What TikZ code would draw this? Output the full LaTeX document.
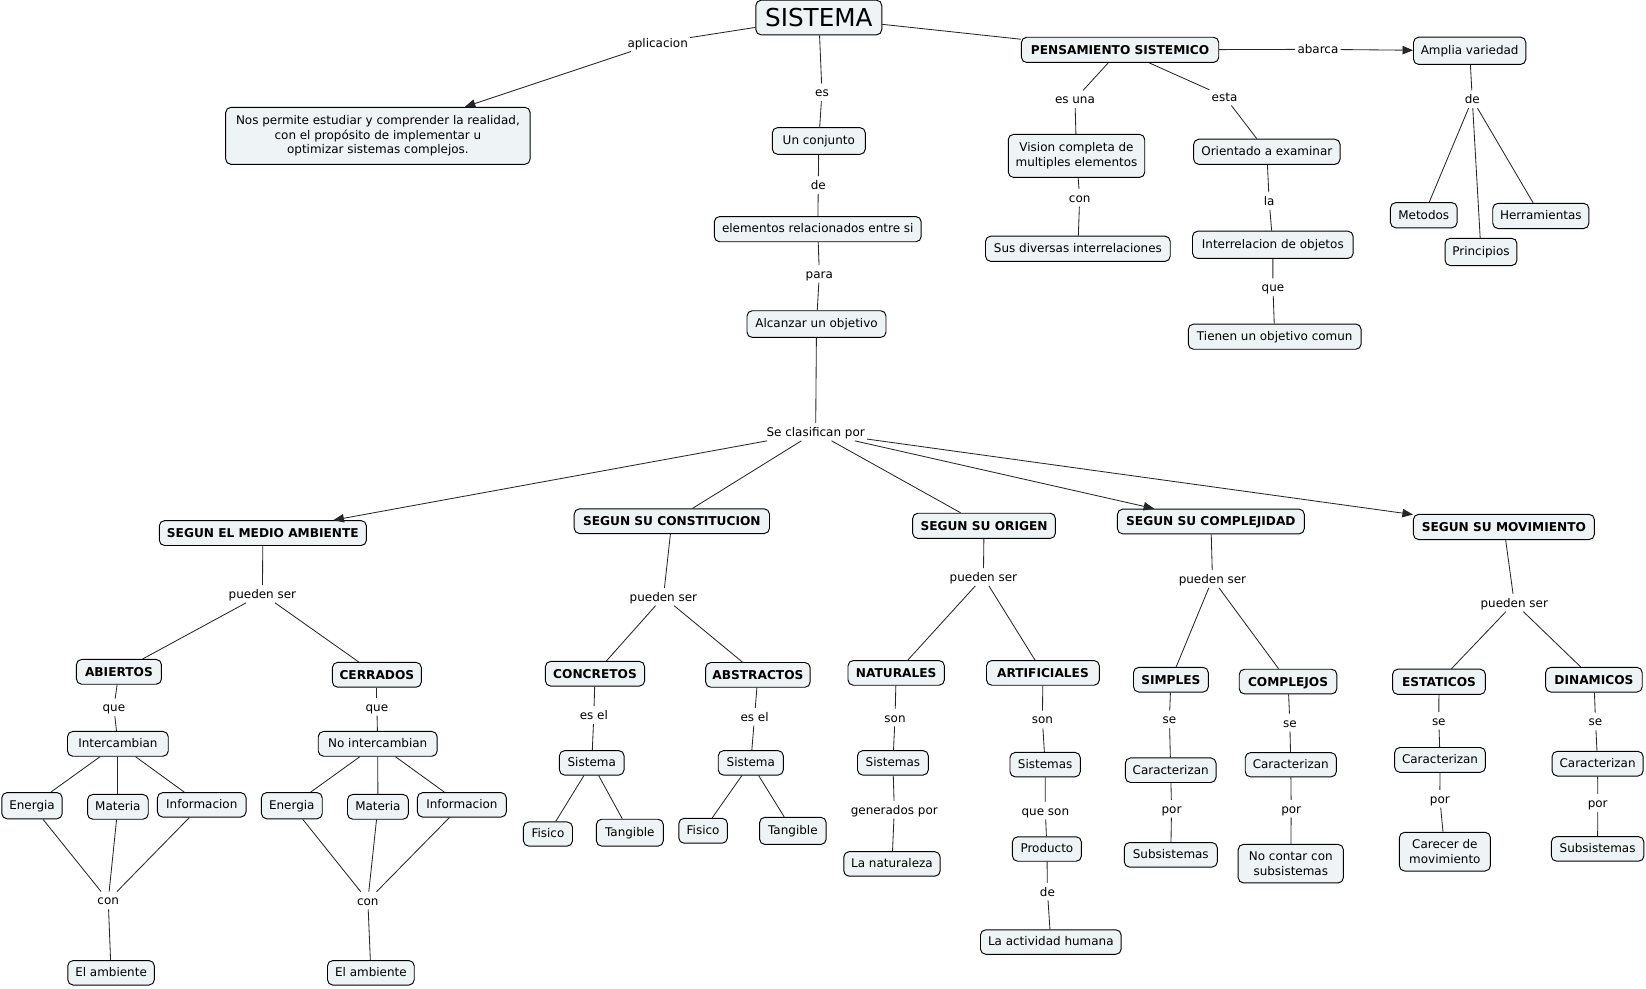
\documentclass[tikz,border=0pt]{standalone}
\usepackage{fontspec}
\setmainfont{DejaVu Sans}
\usetikzlibrary{arrows.meta}
\definecolor{boxfill}{RGB}{238,243,245}
\newcommand\regfs{\fontsize{11.4}{14}\selectfont}
\newcommand\boldfs{\fontsize{11.6}{14}\selectfont\bfseries}
\tikzset{
  cbox/.style={draw=black, fill=boxfill, rounded corners=5pt, line width=0.9pt, inner sep=1pt, font=\regfs, text height=9.5pt, text depth=2.2pt},
  cmbox/.style={draw=black, fill=boxfill, rounded corners=5pt, line width=0.9pt, inner sep=1pt, font=\regfs, align=center},
  cbbox/.style={cbox, font=\boldfs, text height=10pt, text depth=1.5pt},
  clab/.style={inner xsep=2pt, inner ysep=3pt, font=\regfs, text height=9.5pt, text depth=1pt},
  conn/.style={line width=0.8pt, draw=black!85},
  conarrow/.style={conn, -{Triangle[length=10pt,width=8pt]}},
}
\begin{document}
\begin{tikzpicture}[x=1pt,y=-1pt]
\useasboundingbox (0,0) rectangle (1568,941.2);
\fill[white] (0,0) rectangle (1568,941.2);

% ---------- top ----------
\node[cbox, font=\fontsize{23.5}{26}\selectfont, text height=17pt, text depth=0pt, minimum width=120pt, minimum height=33pt] (sis) at (780,16.7) {SISTEMA};
\node[cmbox, minimum width=290pt, minimum height=54.3pt] (nos) at (360,129.4) {Nos permite estudiar y comprender la realidad,\\ con el propósito de implementar u\\ optimizar sistemas complejos.};
\node[cbox, minimum width=88.6pt, minimum height=25.4pt] (un) at (780,134.3) {Un conjunto};
\node[cbox, minimum width=197pt, minimum height=24pt] (elem) at (779,218.3) {elementos relacionados entre si};
\node[cbox, minimum width=132.4pt, minimum height=25.4pt] (alc) at (777.8,308.7) {Alcanzar un objetivo};
\node[cbbox, minimum width=188pt, minimum height=24pt] (pens) at (1067,47.5) {PENSAMIENTO SISTEMICO};
\node[cbox, minimum width=107pt, minimum height=26pt] (amp) at (1400,48.4) {Amplia variedad};
\node[cmbox, minimum width=130pt, minimum height=41pt] (vis) at (1025.5,148.5) {Vision completa de\\ multiples elementos};
\node[cbox, minimum width=176pt, minimum height=24pt] (sus) at (1026.8,237) {Sus diversas interrelaciones};
\node[cbox, minimum width=139.5pt, minimum height=24pt] (ori) at (1206.8,144.6) {Orientado a examinar};
\node[cbox, minimum width=153pt, minimum height=26pt] (inter) at (1212.5,233.2) {Interrelacion de objetos};
\node[cbox, minimum width=164.6pt, minimum height=24pt] (tien) at (1214.3,320.7) {Tienen un objetivo comun};
\node[cbox, minimum width=63.5pt, minimum height=24pt] (met) at (1356.3,205) {Metodos};
\node[cbox, minimum width=68.5pt, minimum height=26pt] (prin) at (1410.8,240) {Principios};
\node[cbox, minimum width=91.6pt, minimum height=24pt] (herr) at (1467.8,205.7) {Herramientas};

\node[clab] (lapl) at (626.5,40.6) {aplicacion};
\node[clab] (les) at (783,88) {es};
\node[clab] (lde1) at (779.5,176.2) {de};
\node[clab] (lpara) at (780.5,260.7) {para};
\node[clab] (lsecl) at (777,411.5) {Se clasifican por};
\node[clab] (labarca) at (1255.5,47) {abarca};
\node[clab] (lesuna) at (1024,94.6) {es una};
\node[clab] (lesta) at (1166.5,92) {esta};
\node[clab] (lcon0) at (1028.5,188.3) {con};
\node[clab] (lla) at (1209,191.5) {la};
\node[clab] (lque0) at (1212.6,273.7) {que};
\node[clab] (lde2) at (1402.5,94.6) {de};

% ---------- classification heads ----------
\node[cbbox, minimum width=197.3pt, minimum height=23.7pt] (s1) at (250.4,507.8) {SEGUN EL MEDIO AMBIENTE};
\node[cbbox, minimum width=186pt, minimum height=23.5pt] (s2) at (640,496.5) {SEGUN SU CONSTITUCION};
\node[cbbox, minimum width=136pt, minimum height=24pt] (s3) at (937.4,500.9) {SEGUN SU ORIGEN};
\node[cbbox, minimum width=178pt, minimum height=23.6pt] (s4) at (1153.5,496.8) {SEGUN SU COMPLEJIDAD};
\node[cbbox, minimum width=172.4pt, minimum height=24pt] (s5) at (1432.6,502) {SEGUN SU MOVIMIENTO};

% ---------- medio ambiente ----------
\node[cbbox, minimum width=81pt, minimum height=23.6pt] (abi) at (113.3,640) {ABIERTOS};
\node[cbbox, minimum width=84.7pt, minimum height=23.7pt] (cer) at (359,642.8) {CERRADOS};
\node[cbox, minimum width=96pt, minimum height=23.6pt] (int1) at (112.3,708.6) {Intercambian};
\node[cbox, minimum width=113.3pt, minimum height=23.6pt] (int2) at (359.8,708.6) {No intercambian};
\node[cbox, minimum width=57.5pt, minimum height=25pt] (ene1) at (30.5,767.5) {Energia};
\node[cbox, minimum width=57.8pt, minimum height=23.6pt] (mat1) at (112.3,768.6) {Materia};
\node[cbox, minimum width=84.4pt, minimum height=23.3pt] (inf1) at (192.2,766.7) {Informacion};
\node[cbox, minimum width=57.9pt, minimum height=25pt] (ene2) at (278,767.5) {Energia};
\node[cbox, minimum width=57.9pt, minimum height=23.6pt] (mat2) at (360,768.6) {Materia};
\node[cbox, minimum width=84.7pt, minimum height=23.3pt] (inf2) at (440,766.7) {Informacion};
\node[cbox, minimum width=82.4pt, minimum height=23.3pt] (amb1) at (105.8,926.7) {El ambiente};
\node[cbox, minimum width=82.6pt, minimum height=23.3pt] (amb2) at (353.3,926.7) {El ambiente};
\node[clab] (lp1) at (250,565.8) {pueden ser};
\node[clab] (lq1) at (108.5,674) {que};
\node[clab] (lq2) at (359,673.2) {que};
\node[clab] (lc1) at (103.1,857.8) {con};
\node[clab] (lc2) at (350.4,857.9) {con};

% ---------- constitucion ----------
\node[cbbox, minimum width=94.5pt, minimum height=23.5pt] (conc) at (566.8,641.8) {CONCRETOS};
\node[cbbox, minimum width=99.5pt, minimum height=23.6pt] (abst) at (722,642.9) {ABSTRACTOS};
\node[cbox, minimum width=61.6pt, minimum height=23.3pt] (sist1) at (563.7,726.7) {Sistema};
\node[cbox, minimum width=62pt, minimum height=23.3pt] (sist2) at (715.2,726.7) {Sistema};
\node[cbox, minimum width=46.7pt, minimum height=23pt] (fis1) at (522,794.5) {Fisico};
\node[cbox, minimum width=63.7pt, minimum height=25.6pt] (tan1) at (600,793.2) {Tangible};
\node[cbox, minimum width=46.3pt, minimum height=23.7pt] (fis2) at (669.8,791.4) {Fisico};
\node[cbox, minimum width=63.4pt, minimum height=25.8pt] (tan2) at (755.3,791.5) {Tangible};
\node[clab] (lp2) at (632,568.6) {pueden ser};
\node[clab] (lesel1) at (565.7,681.1) {es el};
\node[clab] (lesel2) at (718.8,682.8) {es el};

% ---------- origen ----------
\node[cbbox, minimum width=91.8pt, minimum height=23.5pt] (nat) at (853.7,641) {NATURALES};
\node[cbbox, minimum width=107.5pt, minimum height=23.5pt] (art) at (993.5,641) {ARTIFICIALES};
\node[cbox, minimum width=67.5pt, minimum height=23.3pt] (sists1) at (850.6,726.7) {Sistemas};
\node[cbox, minimum width=67pt, minimum height=23.3pt] (sists2) at (995.6,728.4) {Sistemas};
\node[cbox, minimum width=91.8pt, minimum height=23.3pt] (lanat) at (849.7,823) {La naturaleza};
\node[cbox, minimum width=65.7pt, minimum height=23.3pt] (prod) at (997.3,808.8) {Producto};
\node[cbox, minimum width=134pt, minimum height=23.3pt] (act) at (1001,897.4) {La actividad humana};
\node[clab] (lp3) at (936.8,549.7) {pueden ser};
\node[clab] (lson1) at (852.6,683.6) {son};
\node[clab] (lson2) at (993,685.4) {son};
\node[clab] (lgen) at (851.9,771.4) {generados por};
\node[clab] (lqueson) at (995.8,772.2) {que son};
\node[clab] (lde3) at (997.8,849.3) {de};

% ---------- complejidad ----------
\node[cbbox, minimum width=71.3pt, minimum height=23.5pt] (simp) at (1115.4,647.5) {SIMPLES};
\node[cbbox, minimum width=93pt, minimum height=23.5pt] (comp) at (1227,649.3) {COMPLEJOS};
\node[cbox, minimum width=86.4pt, minimum height=23.4pt] (car1) at (1115.2,733.7) {Caracterizan};
\node[cbox, minimum width=86.8pt, minimum height=23.1pt] (car2) at (1229.6,728.5) {Caracterizan};
\node[cbox, minimum width=88.6pt, minimum height=23.4pt] (sub1) at (1115.3,814.3) {Subsistemas};
\node[cmbox, minimum width=100.2pt, minimum height=36.7pt] (nocon) at (1229.6,822.7) {No contar con\\ subsistemas};
\node[clab] (lp4) at (1155,551.5) {pueden ser};
\node[clab] (lse1) at (1114,685.4) {se};
\node[clab] (lse2) at (1228.7,688.3) {se};
\node[clab] (lpor1) at (1116,770.4) {por};
\node[clab] (lpor2) at (1230,770.4) {por};

% ---------- movimiento ----------
\node[cbbox, minimum width=88.5pt, minimum height=24pt] (est) at (1370.8,649.5) {ESTATICOS};
\node[cbbox, minimum width=92pt, minimum height=23.5pt] (din) at (1518.4,647.5) {DINAMICOS};
\node[cbox, minimum width=86.5pt, minimum height=23.7pt] (car3) at (1371.8,723.9) {Caracterizan};
\node[cbox, minimum width=86.8pt, minimum height=23.5pt] (car4) at (1521.9,727.5) {Caracterizan};
\node[cmbox, minimum width=86.7pt, minimum height=36.9pt] (carecer) at (1376.4,811.3) {Carecer de\\ movimiento};
\node[cbox, minimum width=88.2pt, minimum height=23.4pt] (sub2) at (1521.9,808.7) {Subsistemas};
\node[clab] (lp5) at (1442.5,574.3) {pueden ser};
\node[clab] (lse3) at (1370.6,686.5) {se};
\node[clab] (lse4) at (1519.9,687.2) {se};
\node[clab] (lpor3) at (1371.6,760.8) {por};
\node[clab] (lpor4) at (1522,765) {por};

% ---------- connectors ----------
\draw[conn] (sis) -- (lapl);
\draw[conarrow] (lapl) -- (nos);
\draw[conn] (sis) -- (les);
\draw[conn] (les) -- (un);
\draw[conn] (un) -- (lde1);
\draw[conn] (lde1) -- (elem);
\draw[conn] (elem) -- (lpara);
\draw[conn] (lpara) -- (alc);
\draw[conn] (alc) -- (lsecl);
\draw[conarrow] (lsecl) -- (s1);
\draw[conn] (lsecl) -- (s2);
\draw[conn] (lsecl) -- (s3);
\draw[conarrow] (lsecl) -- (s4);
\draw[conarrow] (lsecl) -- (s5);
\draw[conn] (sis) -- (pens);
\draw[conn] (pens) -- (labarca);
\draw[conarrow] (labarca) -- (amp);
\draw[conn] (pens) -- (lesuna);
\draw[conn] (lesuna) -- (vis);
\draw[conn] (vis) -- (lcon0);
\draw[conn] (lcon0) -- (sus);
\draw[conn] (pens) -- (lesta);
\draw[conn] (lesta) -- (ori);
\draw[conn] (ori) -- (lla);
\draw[conn] (lla) -- (inter);
\draw[conn] (inter) -- (lque0);
\draw[conn] (lque0) -- (tien);
\draw[conn] (amp) -- (lde2);
\draw[conn] (lde2) -- (met);
\draw[conn] (lde2) -- (prin);
\draw[conn] (lde2) -- (herr);

\draw[conn] (s1) -- (lp1);
\draw[conn] (lp1) -- (abi);
\draw[conn] (lp1) -- (cer);
\draw[conn] (abi) -- (lq1);
\draw[conn] (lq1) -- (int1);
\draw[conn] (int1) -- (ene1);
\draw[conn] (int1) -- (mat1);
\draw[conn] (int1) -- (inf1);
\draw[conn] (ene1) -- (lc1);
\draw[conn] (mat1) -- (lc1);
\draw[conn] (inf1) -- (lc1);
\draw[conn] (lc1) -- (amb1);
\draw[conn] (cer) -- (lq2);
\draw[conn] (lq2) -- (int2);
\draw[conn] (int2) -- (ene2);
\draw[conn] (int2) -- (mat2);
\draw[conn] (int2) -- (inf2);
\draw[conn] (ene2) -- (lc2);
\draw[conn] (mat2) -- (lc2);
\draw[conn] (inf2) -- (lc2);
\draw[conn] (lc2) -- (amb2);

\draw[conn] (s2) -- (lp2);
\draw[conn] (lp2) -- (conc);
\draw[conn] (lp2) -- (abst);
\draw[conn] (conc) -- (lesel1);
\draw[conn] (lesel1) -- (sist1);
\draw[conn] (sist1) -- (fis1);
\draw[conn] (sist1) -- (tan1);
\draw[conn] (abst) -- (lesel2);
\draw[conn] (lesel2) -- (sist2);
\draw[conn] (sist2) -- (fis2);
\draw[conn] (sist2) -- (tan2);

\draw[conn] (s3) -- (lp3);
\draw[conn] (lp3) -- (nat);
\draw[conn] (lp3) -- (art);
\draw[conn] (nat) -- (lson1);
\draw[conn] (lson1) -- (sists1);
\draw[conn] (sists1) -- (lgen);
\draw[conn] (lgen) -- (lanat);
\draw[conn] (art) -- (lson2);
\draw[conn] (lson2) -- (sists2);
\draw[conn] (sists2) -- (lqueson);
\draw[conn] (lqueson) -- (prod);
\draw[conn] (prod) -- (lde3);
\draw[conn] (lde3) -- (act);

\draw[conn] (s4) -- (lp4);
\draw[conn] (lp4) -- (simp);
\draw[conn] (lp4) -- (comp);
\draw[conn] (simp) -- (lse1);
\draw[conn] (lse1) -- (car1);
\draw[conn] (car1) -- (lpor1);
\draw[conn] (lpor1) -- (sub1);
\draw[conn] (comp) -- (lse2);
\draw[conn] (lse2) -- (car2);
\draw[conn] (car2) -- (lpor2);
\draw[conn] (lpor2) -- (nocon);

\draw[conn] (s5) -- (lp5);
\draw[conn] (lp5) -- (est);
\draw[conn] (lp5) -- (din);
\draw[conn] (est) -- (lse3);
\draw[conn] (lse3) -- (car3);
\draw[conn] (car3) -- (lpor3);
\draw[conn] (lpor3) -- (carecer);
\draw[conn] (din) -- (lse4);
\draw[conn] (lse4) -- (car4);
\draw[conn] (car4) -- (lpor4);
\draw[conn] (lpor4) -- (sub2);
\end{tikzpicture}
\end{document}
